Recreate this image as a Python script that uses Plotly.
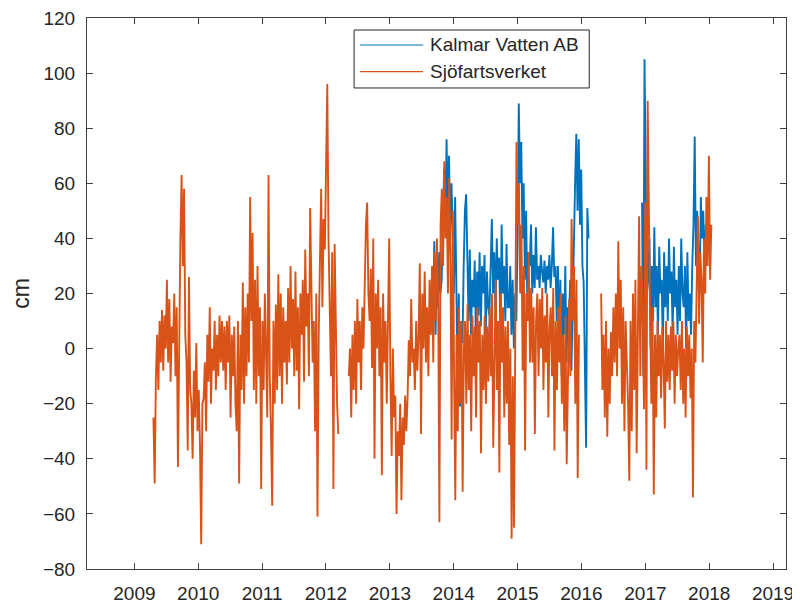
import pandas as pd
import plotly.graph_objects as go

# ---- data (weekly samples, cm) ----
# Sjöfartsverket, segment 1: starts 2009-04-20
sjo_seg1_start = "2009-04-20"
sjo_seg1 = [
    -25, -49, -10, 5, -15, 10, -5, 14,
    -8, 12, 0, 25, -5, 18, -12, 8, 2, 20, -10, 15, -43, 10,
    40, 63, 30, 58, 5,
    -5, -37, 26, -15, -20, -40, -8, -25, 2, -30, -15,
    -35, -71, -20,
    -18, -5, -30, 5, -12, 15, -20, 0, -8, 10, -15,
    5, -10, 12, -5, 10, -8, 8, -15, 10, -5, 12, -25, 5, -10, 8, -20,
    -30, 10, -49, 5, -15, 24, -20, 15, -10,
    20, -5, 55, 10, 42, -15, 25,
    -20, 30, -10, 15, -51, 10, -15, 20, -5, -25, 63, -10,
    -30, -57, 10, -20, 16, -15,
    27, -10, 20, -20, 15, -5,
    10, -13, 22, -5, 30, 0, 18, -10, 28, -8, 15, -22, 20, 5, 25, -12, 36, 8, 20, -10, 51, 15, -5,
    10, -30, 20, -61, 5,
    30, 58, 15, 47, 36, 77, 96,
    40, 20, -10, 35, -51, 38, 5, -20, -31,
]

# Sjöfartsverket, segment 2: starts 2012-05-11
sjo_seg2_start = "2012-05-11"
sjo_seg2 = [
    -10, 0, -25, 5, -15, 10, -20,
    18, -5, 10, -15, 15, 0,
    30, 45, 53, 20,
    10, 29, -7, 40, -40, 20, 0, 25, -10, 15, -46, 20, -5, 10, -20, 5,
    40, -10, -39, 0, -25,
    -17, -60, -30, -39, -20, -55, -25, -35, -17, -30,
    -18, 3, -10, 18, -5, 0, -15, 10, -8, 5,
    31, -31, 20, 0, 28, -5, 15, -10,
    25, 5, 30, -5, 35, 10, 40, 20, -63,
    45, 58, 30, 68, 40, 55, 20, 62, 35, -33, 50,
    -10, -55, 5, -30, 15, -20, 10, -52, 0,
    10, -20, 16, -15, 5, -30, 12, -10, 8, -25, 15, -5, 10, -38, 5, -15, 12, -20, 8, -12,
    15, -10, 20, -36, 5, 25, -15, 10, -45, 20, -5, 15, -25, 8,
    -20, 10, -35, 0, -69, -10, -65, 30, 75, 45, 60, 20,
    45, -8, 30, -37, 20, 10, 35, -5,
    22, -5, 15, -31, 10, 20, -10, 18, 0, 22, -15, 12, -5, 20, -25, 8, 15, -10, 22,
    -37, 10, -15, 15, -5, 20, -20, 5, -30, 12, -42, 0, 18, -10,
    47, 10, 30, -20, 25, -47, 5,
]

# Sjöfartsverket, segment 3: starts 2016-04-23
sjo_seg3_start = "2016-04-23"
sjo_seg3 = [
    20, -15, 5, -25, 10, -32, 0, -20, 6, -10, 15, -5,
    20, -10, 39, 0, 25, -20, 15, -30, 10, -5,
    -20, -48, 10, -30, 20, -15, 25, -38, 5, 48, -10, 30, 12, -22,
    53, -44, 90, 40, 10,
    -20, 15, -53, 5, -25,
    10, -10, 5, -18, 8, -5, -29, 10, -12, 5, -15, 8, -8, 10, -20, 5, -10, 0,
    5, -15, 10, -20, 0, -25, 8, -10, 5, -18, 0,
    -54, 10, -5,
    20, 48, 9, 35, 25, -5, 40, 20, 55, 30, 70, 25, 45,
]

# Kalmar Vatten AB, segment 1: starts 2013-08-29
kv_seg1_start = "2013-08-29"
kv_seg1 = [
    29, 10, 39, 5, 30, 15, 35, 20, 25,
    50, 65, 45, 76, 50, 70, 40, 60, 45, 20, 55,
    14, -10, 20, -21, 10, 2, 30, 50, 56,
    30, 10, 36, 5, 25, 15, 32, 2, 28, 12, 35, 8, 30, 20, 34, 5, 28, 15, 12, 30,
    47, 20, 35, 10, 40, 25, 33, 5, 45, 20, 30, 10, 38, 15,
    15, 30, 5, 25, 0, 20, 10, 40, 89, 60, 75, 40,
    60, 25, 50, 15, 35, 30, 45, 20,
    34, 22, 44, 25, 30, 22, 34, 28, 24, 32, 20, 30, 25, 34, 22, 30, 44, 26, 30,
    10, 30, 0, 25, -10, 20, 5, 30, -5, 15, 10, 25, -8, 20,
    40, 60, 78, 50, 76, 45, 65, 30,
    24, -10, -36, 51, 40,
]

# Kalmar Vatten AB, segment 2: starts 2016-12-13
kv_seg2_start = "2016-12-13"
kv_seg2 = [
    53, -10, 105, 50, 20,
    25, 40, 0, 30, 10,
    44, 15, 30, 5, 37, 20, 25, 0, 35, 15, 30, 10, 40, 20, 28, 5, 37, 15,
    25, 5, 30, 10, 40, 20, 15, 30, 0, 35, 10,
    20, 5, 30,
    45, 77, 30, 50, 35, 20, 55, 40, 50, 25, 45, 30, 40,
]

series_names = ["Kalmar Vatten AB", "Sjöfartsverket"]
series_colors = ["#0072BD", "#D95319"]
year_ticks = [str(y) for y in range(2009, 2020)]
y_ticks = list(range(-80, 121, 20))


def build(segments):
    xs, ys = [], []
    for start, vals in segments:
        d = pd.date_range(start, periods=len(vals), freq="7D")
        xs.extend(list(d))
        ys.extend(vals)
        xs.append(None)
        ys.append(None)
    return xs, ys


kx, ky = build([(kv_seg1_start, kv_seg1), (kv_seg2_start, kv_seg2)])
sx, sy = build([(sjo_seg1_start, sjo_seg1), (sjo_seg2_start, sjo_seg2),
                (sjo_seg3_start, sjo_seg3)])

fig = go.Figure()
fig.add_trace(go.Scatter(x=kx, y=ky, mode="lines", name=series_names[0],
                         line=dict(color=series_colors[0], width=1.9), connectgaps=False))
fig.add_trace(go.Scatter(x=sx, y=sy, mode="lines", name=series_names[1],
                         line=dict(color=series_colors[1], width=1.9), connectgaps=False))

axis_col = "#404040"
txt_col = "#262626"
font = dict(family="Liberation Sans, Arial, Helvetica, sans-serif", size=19, color=txt_col)

# legend box drawn in paper coordinates (MATLAB-style long line samples)
shapes = [dict(type="rect", xref="paper", yref="paper", x0=0.3821, x1=0.7185,
               y0=0.8730, y1=0.9782, line=dict(color=txt_col, width=1),
               fillcolor="white", layer="above")]
annotations = []
for i, (nm, col) in enumerate(zip(series_names, series_colors)):
    yy = 0.9510 - i * 0.0485
    shapes.append(dict(type="line", xref="paper", yref="paper", x0=0.3907, x1=0.4809,
                       y0=yy, y1=yy, line=dict(color=col, width=1.2), layer="above"))
    annotations.append(dict(xref="paper", yref="paper", x=0.4880, y=yy, text=nm,
                            showarrow=False, xanchor="left", yanchor="middle",
                            font=dict(size=19, color=txt_col)))

# page body adds an 8px margin; figure offset accordingly
fig.update_layout(
    width=792, height=597, autosize=False,
    margin=dict(l=79, r=14, t=10, b=36),
    paper_bgcolor="white", plot_bgcolor="white",
    font=font,
    showlegend=False,
    shapes=shapes, annotations=annotations,
)
fig.update_xaxes(
    type="date", range=["2008-04-05", "2019-03-16"],
    tickvals=[f"{y}-01-01" for y in year_ticks], ticktext=year_ticks,
    ticks="inside", ticklen=6, tickcolor=axis_col,
    showline=True, linecolor=axis_col, linewidth=1, mirror="ticks",
    showgrid=False, zeroline=False, automargin=False,
    ticklabeloverflow="allow", ticklabelstandoff=7,
)
fig.update_yaxes(
    range=[-80, 120], tickvals=y_ticks,
    ticks="inside", ticklen=6, tickcolor=axis_col,
    showline=True, linecolor=axis_col, linewidth=1, mirror="ticks",
    showgrid=False, zeroline=False, automargin=False,
    ticklabeloverflow="allow", ticklabelstandoff=7,
    title=dict(text="cm", standoff=14),
)

fig.write_html("out.html")
